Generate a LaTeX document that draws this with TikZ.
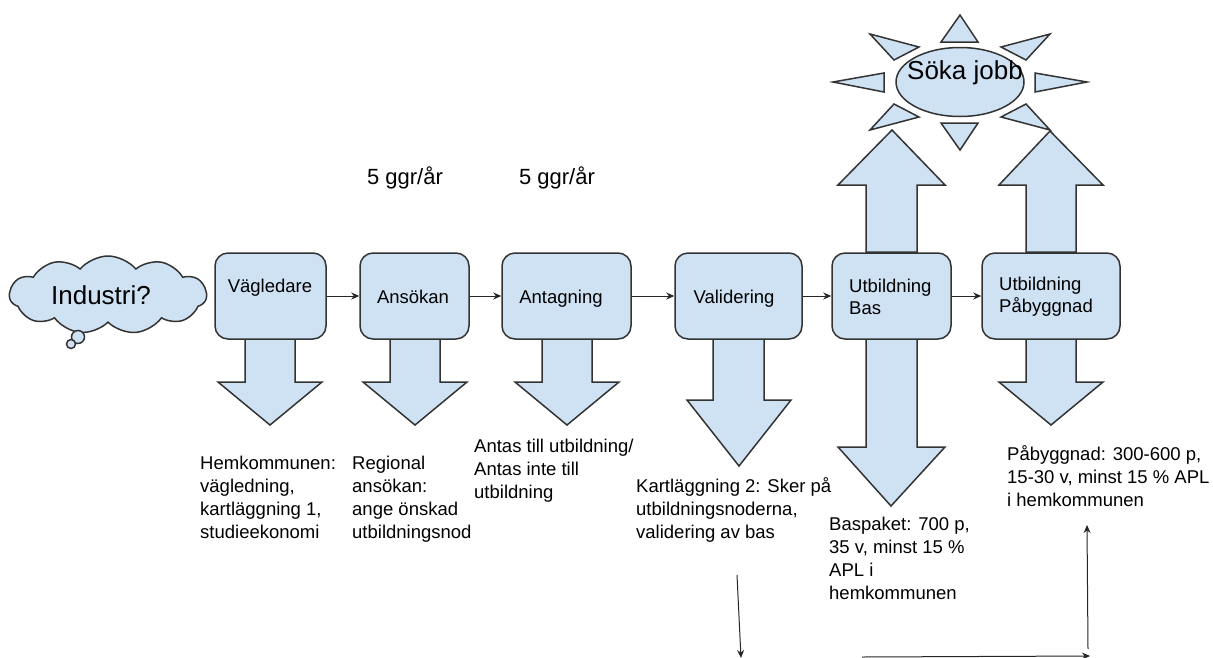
\documentclass[tikz,border=0pt]{standalone}
\usepackage{fontspec}
\setmainfont{Liberation Sans}
\usetikzlibrary{shapes.geometric,shapes.symbols,arrows.meta}
\definecolor{paleblue}{HTML}{CFE2F3}
\definecolor{edge}{HTML}{333333}
\tikzset{
	fas/.style={draw=edge, line width=1.5pt, fill=paleblue, line join=miter},
	box/.style={fas, rounded corners=13pt, minimum height=86pt, inner sep=0pt, align=left},
	info/.style={anchor=north west, inner sep=0pt, align=left, font=\fontsize{18.5}{23}\selectfont},
	freq/.style={inner sep=0pt, font=\fontsize{22}{26}\selectfont},
	big/.style={inner sep=0pt, font=\fontsize{26}{30}\selectfont},
	link/.style={draw=black!85, line width=1pt, -{Stealth[length=8pt,width=7pt]}}
}
\begin{document}
\begin{tikzpicture}[x=1pt, y=-1pt]
	\useasboundingbox (0, 0) rectangle (1213, 657);
	\fontsize{18.5}{22}\selectfont
	% down arrows, same size
	\foreach \x in {270, 415, 567, 1051}
		\filldraw[fas] (\x-25, 338) -- (\x-25, 382) -- (\x-52, 382) -- (\x, 425) -- (\x+52, 382) -- (\x+25, 382) -- (\x+25, 338) -- cycle;
	\filldraw[fas] (713, 338) -- (713, 400) -- (687, 400) -- (739, 466) -- (791, 400) -- (764, 400) -- (764, 338) -- cycle;
	\filldraw[fas] (866, 338) -- (866, 447) -- (838, 447) -- (891, 506) -- (945, 447) -- (917, 447) -- (917, 338) -- cycle;
	% up arrows
	\filldraw[fas] (866, 252) -- (866, 185) -- (838, 185) -- (892, 130) -- (945, 185) -- (917, 185) -- (917, 252) -- cycle;
	\filldraw[fas] (1026, 252) -- (1026, 185) -- (999, 185) -- (1050, 131) -- (1103, 185) -- (1076, 185) -- (1076, 252) -- cycle;
	% sun
	\filldraw[fas] (960, 15) -- (941, 42) -- (978, 42) -- cycle;
	\filldraw[fas] (870, 34) -- (919, 47) -- (894, 60) -- cycle;
	\filldraw[fas] (1050, 34) -- (1001, 47) -- (1026, 60) -- cycle;
	\filldraw[fas] (833, 82) -- (884, 73) -- (884, 92) -- cycle;
	\filldraw[fas] (1087, 82) -- (1035, 73) -- (1035, 92) -- cycle;
	\filldraw[fas] (870, 130) -- (919, 117) -- (894, 104) -- cycle;
	\filldraw[fas] (1050, 130) -- (1001, 117) -- (1026, 104) -- cycle;
	\filldraw[fas] (960, 150) -- (941, 123) -- (978, 123) -- cycle;
	\node[fas, ellipse, minimum width=128pt, minimum height=69pt, inner sep=0pt] (jobb) at (960, 82) {};
	\node[big] (jobbtext) at (965, 73) {Söka jobb};
	% cloud
	\node[fas, cloud, cloud puffs=11, cloud puff arc=100, aspect=2.6, minimum width=197pt, minimum height=78pt, inner sep=0pt] (industri) at (108, 295) {};
	\node[fas, ellipse, minimum width=13pt, minimum height=13pt, inner sep=0pt] (bubblea) at (78, 337) {};
	\node[fas, ellipse, minimum width=9pt, minimum height=9pt, inner sep=0pt] (bubbleb) at (71, 344) {};
	\node[big] (industritext) at (101, 295) {Industri?};
	% boxes
	\node[box, minimum width=111pt] (vagledare) at (270.5, 296) {};
	\node[box, minimum width=109pt] (ansokan) at (414.5, 296) {};
	\node[box, minimum width=129pt] (antagning) at (566.5, 296) {};
	\node[box, minimum width=127pt] (validering) at (738.5, 296) {};
	\node[box, minimum width=119pt] (bas) at (891.5, 296) {};
	\node[box, minimum width=138pt] (pabyggnad) at (1051, 296) {};
	\node (vagledaretext) at (270, 288) {Vägledare};
	\node (ansokantext) at (413, 297) {Ansökan};
	\node (antagningtext) at (561, 299) {Antagning};
	\node (valideringtext) at (734, 299) {Validering};
	\node[anchor=west, align=left, inner sep=0pt] (bastext) at (849, 297) {Utbildning\\Bas};
	\node[anchor=west, align=left, inner sep=0pt] (pabyggnadtext) at (999, 297) {Utbildning\\Påbyggnad};
	\draw[link] (vagledare) -- (ansokan);
	\draw[link] (ansokan) -- (antagning);
	\draw[link] (antagning) -- (validering);
	\draw[link] (validering) -- (bas);
	\draw[link] (bas) -- (pabyggnad);
	% texts
	\node[freq] (freqa) at (405, 178) {5 ggr/år};
	\node[freq] (freqb) at (557, 178) {5 ggr/år};
	\node[info] (hem) at (200, 456) {Hemkommunen:\\vägledning,\\kartläggning 1,\\studieekonomi};
	\node[info] (regional) at (352, 456) {Regional\\ansökan:\\ange önskad\\utbildningsnod};
	\node[info] (antas) at (474, 439) {Antas till utbildning/\\Antas inte till\\utbildning};
	\node[info] (kart) at (636, 477) {Kartläggning 2: Sker på\\utbildningsnoderna,\\validering av bas};
	\node[info] (baspaket) at (829, 517) {Baspaket: 700 p,\\35 v, minst 15 \%\\APL i\\hemkommunen};
	\node[info] (pabygg) at (1007, 445) {Påbyggnad: 300-600 p,\\15-30 v, minst 15 \% APL\\i hemkommunen};
	% loose arrows at the bottom
	\coordinate (a1) at (737, 575);
	\coordinate (a2) at (741, 658);
	\coordinate (b1) at (862, 657);
	\coordinate (b2) at (1090, 656);
	\coordinate (c1) at (1088, 649);
	\coordinate (c2) at (1087, 525);
	\draw[link] (a1) -- (a2);
	\draw[link] (b1) -- (b2);
	\draw[link] (c1) -- (c2);
\end{tikzpicture}
\end{document}
